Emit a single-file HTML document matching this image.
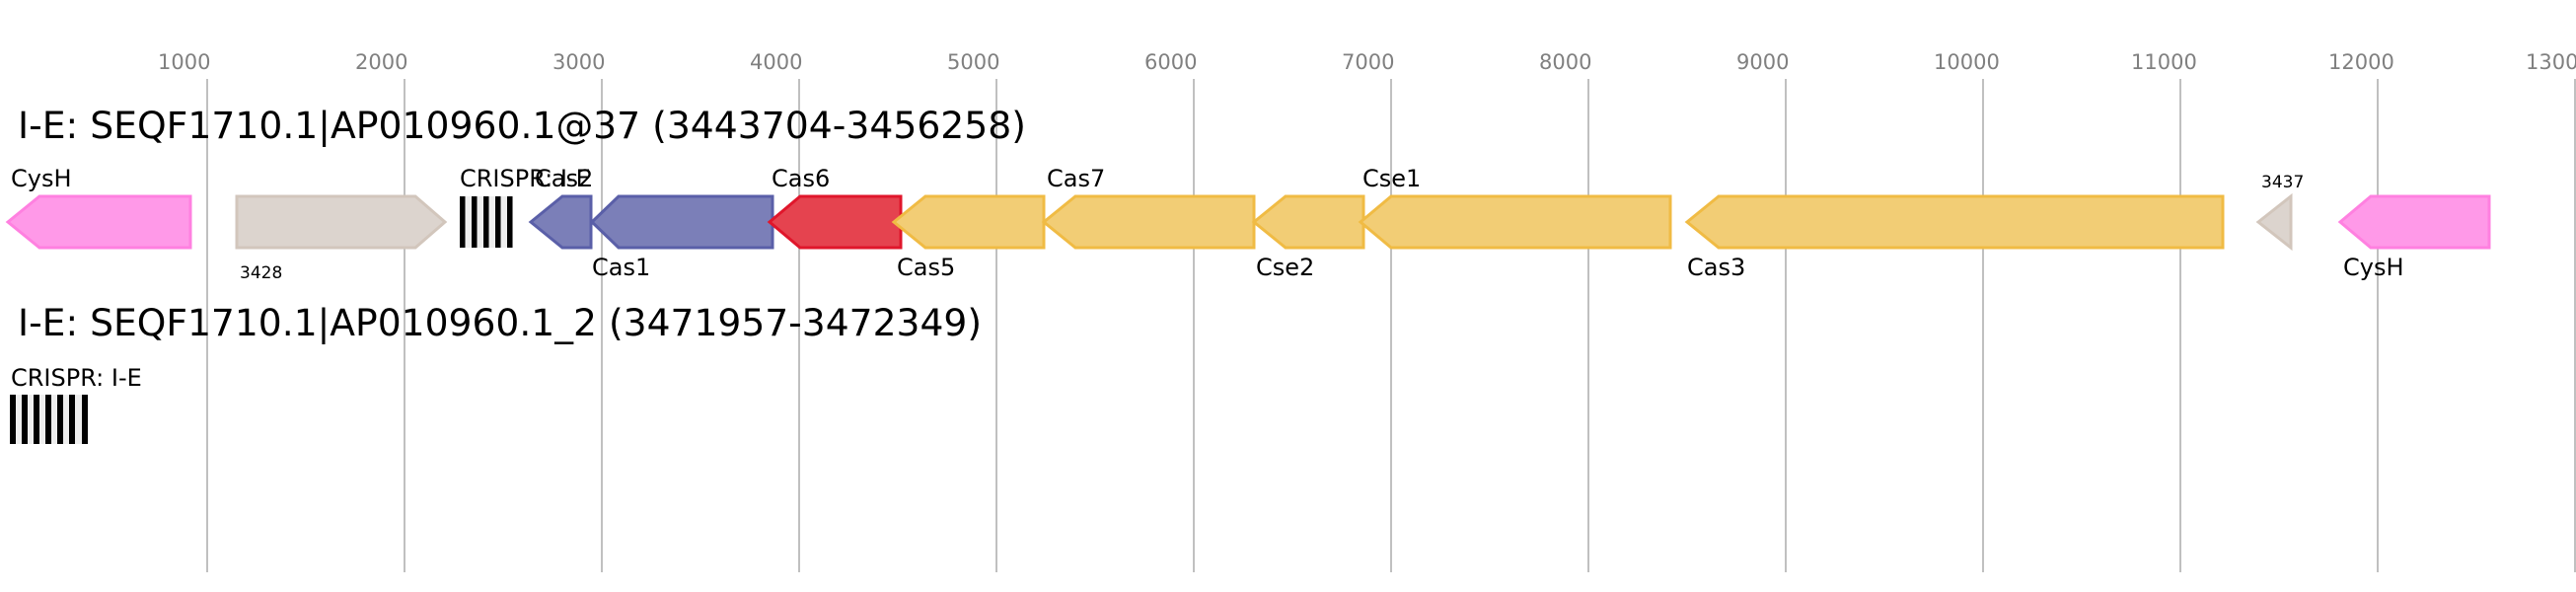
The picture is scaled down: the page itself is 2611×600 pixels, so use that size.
<!DOCTYPE html>
<html><head><meta charset="utf-8"><style>
html,body{margin:0;padding:0;background:#fff;}
svg{display:block;}
text{font-family:"DejaVu Sans","Liberation Sans",sans-serif;}
</style></head><body>
<svg width="2611" height="600" viewBox="0 0 2611 600" xmlns="http://www.w3.org/2000/svg">
<g stroke="#c0c0c0" stroke-width="2">
<line x1="210" y1="80" x2="210" y2="580"/><line x1="410" y1="80" x2="410" y2="580"/><line x1="610" y1="80" x2="610" y2="580"/><line x1="810" y1="80" x2="810" y2="580"/><line x1="1010" y1="80" x2="1010" y2="580"/><line x1="1210" y1="80" x2="1210" y2="580"/><line x1="1410" y1="80" x2="1410" y2="580"/><line x1="1610" y1="80" x2="1610" y2="580"/><line x1="1810" y1="80" x2="1810" y2="580"/><line x1="2010" y1="80" x2="2010" y2="580"/><line x1="2210" y1="80" x2="2210" y2="580"/><line x1="2410" y1="80" x2="2410" y2="580"/><line x1="2610" y1="80" x2="2610" y2="580"/>
</g>
<g fill="#808080" font-size="21">
<text x="160" y="70">1000</text><text x="360" y="70">2000</text><text x="560" y="70">3000</text><text x="760" y="70">4000</text><text x="960" y="70">5000</text><text x="1160" y="70">6000</text><text x="1360" y="70">7000</text><text x="1560" y="70">8000</text><text x="1760" y="70">9000</text><text x="1960" y="70">10000</text><text x="2160" y="70">11000</text><text x="2360" y="70">12000</text><text x="2560" y="70">13000</text>
</g>
<text x="18" y="140" font-size="37" textLength="1022" lengthAdjust="spacingAndGlyphs">I-E: SEQF1710.1|AP010960.1@37 (3443704-3456258)</text>
<text x="18" y="340" font-size="37" textLength="977" lengthAdjust="spacingAndGlyphs">I-E: SEQF1710.1|AP010960.1_2 (3471957-3472349)</text>
<g stroke-width="3">
<polygon points="8,225 40,199 193,199 193,251 40,251" fill="#ff99e8" stroke="#ff80e0"/>
<polygon points="240,199 421,199 451,225 421,251 240,251" fill="#dcd4ce" stroke="#d2c6bc"/>
<polygon points="538,225 570,199 599,199 599,251 570,251" fill="#7b7fb8" stroke="#5a5fa8"/>
<polygon points="600,225 627,199 783,199 783,251 627,251" fill="#7b7fb8" stroke="#5a5fa8"/>
<polygon points="780,225 811,199 913,199 913,251 811,251" fill="#e5434f" stroke="#e0162b"/>
<polygon points="906,225 938,199 1058,199 1058,251 938,251" fill="#f2cd75" stroke="#f0bb44"/>
<polygon points="1058,225 1090,199 1271,199 1271,251 1090,251" fill="#f2cd75" stroke="#f0bb44"/>
<polygon points="1271,225 1303,199 1382,199 1382,251 1303,251" fill="#f2cd75" stroke="#f0bb44"/>
<polygon points="1379,225 1410,199 1693,199 1693,251 1410,251" fill="#f2cd75" stroke="#f0bb44"/>
<polygon points="1710,225 1742,199 2253,199 2253,251 1742,251" fill="#f2cd75" stroke="#f0bb44"/>
<polygon points="2289,225 2322,199 2322,251" fill="#dcd4ce" stroke="#d2c6bc"/>
<polygon points="2372,225 2403,199 2523,199 2523,251 2403,251" fill="#ff99e8" stroke="#ff80e0"/>
</g>
<rect x="466" y="199" width="54" height="52" fill="#eeeeee"/>
<g fill="#000">
<rect x="466" y="199" width="5.5" height="52"/><rect x="478" y="199" width="5.5" height="52"/><rect x="490" y="199" width="5.5" height="52"/><rect x="502" y="199" width="5.5" height="52"/><rect x="514" y="199" width="5.5" height="52"/>
</g>
<rect x="10" y="400" width="79" height="50" fill="#eeeeee"/>
<g fill="#000">
<rect x="10" y="400" width="6" height="50"/><rect x="22" y="400" width="6" height="50"/><rect x="34" y="400" width="6" height="50"/><rect x="46" y="400" width="6" height="50"/><rect x="58" y="400" width="6" height="50"/><rect x="70" y="400" width="6" height="50"/><rect x="83" y="400" width="6" height="50"/>
</g>
<g font-size="24" fill="#000">
<text x="11" y="189">CysH</text>
<text x="466" y="189">CRISPR: I-E</text>
<text x="542" y="189">Cas2</text>
<text x="782" y="189">Cas6</text>
<text x="1061" y="189">Cas7</text>
<text x="1381" y="189">Cse1</text>
<text x="600" y="279">Cas1</text>
<text x="909" y="279">Cas5</text>
<text x="1273" y="279">Cse2</text>
<text x="1710" y="279">Cas3</text>
<text x="2375" y="279">CysH</text>
<text x="11" y="391">CRISPR: I-E</text>
</g>
<g font-size="17" fill="#000">
<text x="243" y="282">3428</text>
<text x="2292" y="190">3437</text>
</g>
</svg>
</body></html>
